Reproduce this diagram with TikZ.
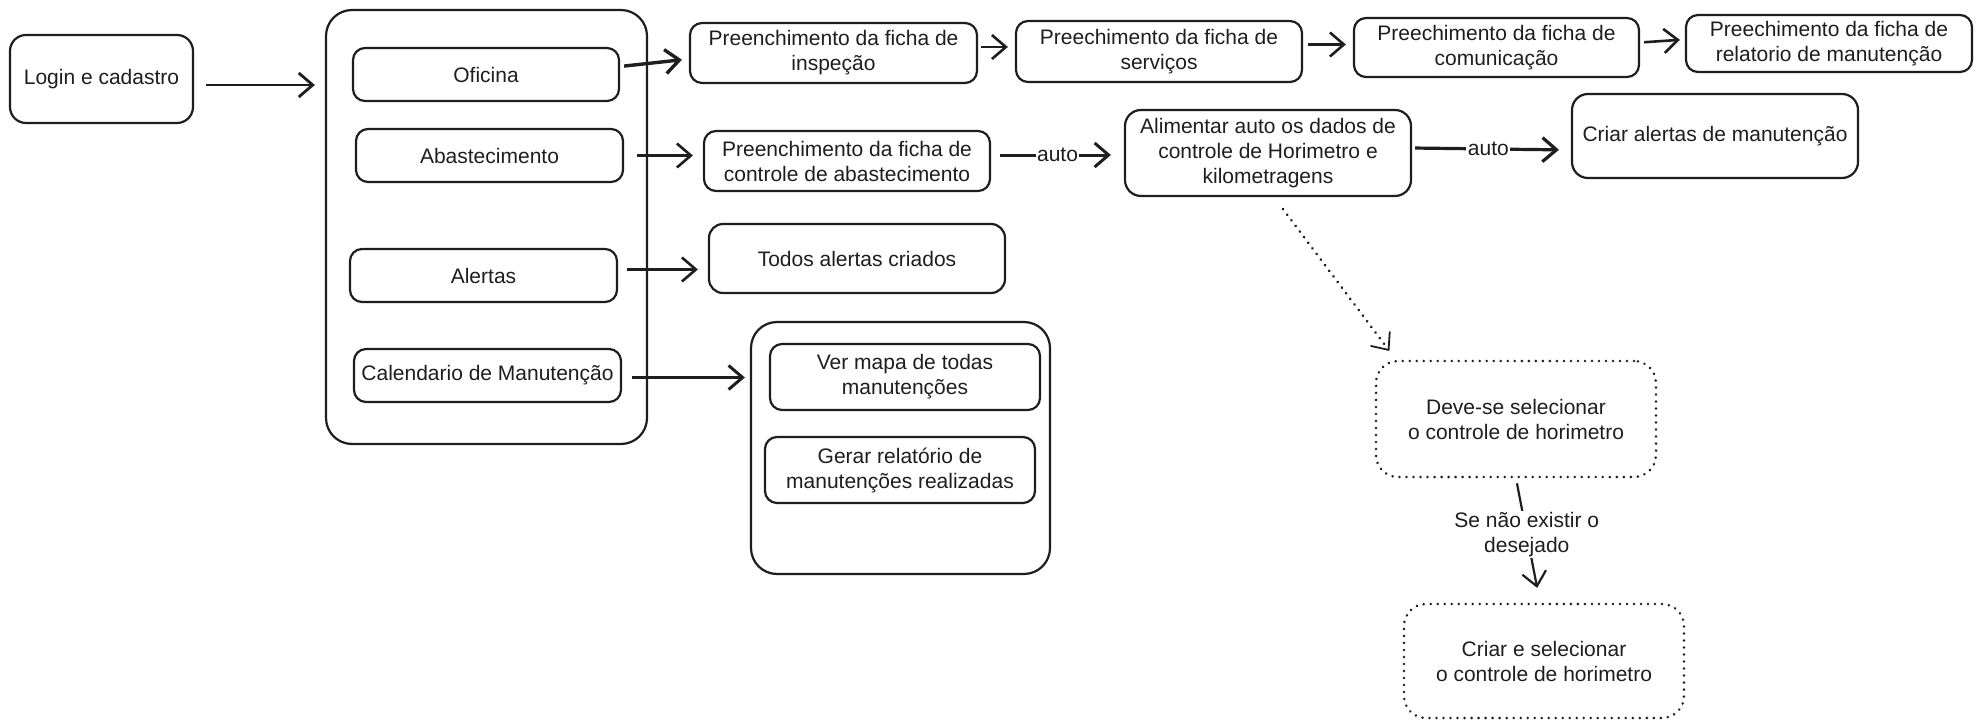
\documentclass[tikz,border=0pt]{standalone}
\usepackage{fontspec}
\setmainfont{Liberation Sans}
\usetikzlibrary{arrows.meta,calc}
\definecolor{inkc}{HTML}{1E1E1E}
\begin{document}
\begin{tikzpicture}[x=1pt,y=-1pt,
  ink/.style={draw=inkc, line width=2.2pt},
  txt/.style={font=\fontsize{21}{25}\selectfont, text=inkc, align=center},
  box/.style={ink, txt, rounded corners=12pt, inner sep=0pt},
  bigbox/.style={ink, rounded corners=26pt, inner sep=0pt},
  dotbox/.style={txt, draw=inkc, line width=2.8pt, line cap=round, dash pattern=on 0.01pt off 7pt, rounded corners=22pt, inner sep=0pt},
  arr/.style={draw=inkc, line width=2.6pt, -{Straight Barb[length=14pt,width=24pt]}},
  dotarr/.style={draw=inkc, line width=3pt, line cap=round, dash pattern=on 0.01pt off 7pt, -{Straight Barb[length=14pt,width=24pt,line width=1.8pt]}},
  lbl/.style={txt, fill=white, inner sep=1.5pt}
]
\useasboundingbox (0,0) rectangle (1982,728);
\fill[white] (0,0) rectangle (1982,728);

% left
\node[box, rounded corners=16pt, minimum width=183pt, minimum height=88pt] (login) at (101.5,79) {Login e cadastro};
\node[bigbox, minimum width=321pt, minimum height=434pt] (cont) at (486.5,227) {};
\node[box, minimum width=266pt, minimum height=53pt] (oficina) at (486,74.5) {Oficina};
\node[box, minimum width=267pt, minimum height=53pt] (abast) at (489.5,155.5) {Abastecimento};
\node[box, minimum width=267pt, minimum height=53pt] (alertas) at (483.5,275.5) {Alertas};
\node[box, minimum width=267pt, minimum height=53pt] (calend) at (487.5,375.5) {Calendario de Manutenção};

% top row
\node[box, minimum width=287pt, minimum height=60pt] (insp) at (833.5,53) {Preenchimento da ficha de\\inspeção};
\node[box, minimum width=286pt, minimum height=61pt] (serv) at (1159,51.5) {Preechimento da ficha de\\serviços};
\node[box, minimum width=285pt, minimum height=59pt] (comun) at (1496.5,47.5) {Preechimento da ficha de\\comunicação};
\node[box, minimum width=286pt, minimum height=57pt] (relat) at (1829,43.5) {Preechimento da ficha de\\relatorio de manutenção};

% second row
\node[box, minimum width=286pt, minimum height=60pt] (ctrlab) at (847,161) {Preenchimento da ficha de\\controle de abastecimento};
\node[box, rounded corners=16pt, minimum width=286pt, minimum height=86pt] (aliment) at (1268,153) {Alimentar auto os dados de\\controle de Horimetro e\\kilometragens};
\node[box, rounded corners=16pt, minimum width=286pt, minimum height=84pt] (criaral) at (1715,136) {Criar alertas de manutenção};

% alerts
\node[box, rounded corners=14pt, minimum width=296pt, minimum height=69pt] (todos) at (857,258.5) {Todos alertas criados};

% calendar container
\node[bigbox, minimum width=299pt, minimum height=252pt] (calcont) at (900.5,448) {};
\node[box, minimum width=270pt, minimum height=66pt] (vermapa) at (905,377) {Ver mapa de todas\\manutenções};
\node[box, minimum width=270pt, minimum height=66pt] (gerar) at (900,470) {Gerar relatório de\\manutenções realizadas};

% dotted boxes
\node[dotbox, minimum width=280pt, minimum height=116pt] (deve) at (1516,419) {Deve-se selecionar\\o controle de horimetro};
\node[dotbox, minimum width=280pt, minimum height=114pt] (criarsel) at (1544,661) {Criar e selecionar\\o controle de horimetro};

% connectors
\draw[arr, line width=2.8pt, shorten <=12pt, shorten >=10pt] ([yshift=-6pt]login.east) -- ([yshift=-6pt]login.east -| cont.west);
\draw[arr, line width=3.4pt, shorten <=4pt, shorten >=7pt] ([yshift=8pt]oficina.east) -- ([yshift=-6pt]insp.west);
\draw[arr, shorten <=13pt, shorten >=10pt] (abast.east) -- (abast.east -| ctrlab.west);
\draw[arr, shorten <=9pt, shorten >=10pt] ([yshift=6pt]alertas.east) -- ([yshift=6pt]alertas.east -| todos.west);
\draw[arr, line width=3pt, shorten <=10pt, shorten >=5pt] ([yshift=-2pt]calend.east) -- ([yshift=-2pt]calend.east -| calcont.west);
\draw[arr, shorten <=3pt, shorten >=7pt] ([yshift=6pt]insp.east) -- ([yshift=6pt]insp.east -| serv.west);
\draw[arr, shorten <=5pt, shorten >=7pt] ([yshift=7pt]serv.east) -- ([yshift=3pt]comun.west);
\draw[arr, shorten <=4pt, shorten >=5pt] ([yshift=5pt]comun.east) -- ([yshift=4pt]relat.west);
\draw[arr, line width=3pt, shorten <=9pt, shorten >=13pt] ([yshift=6pt]ctrlab.east) -- ([yshift=6pt]ctrlab.east -| aliment.west)
  node[lbl, pos=0.5] {auto};
\draw[arr, line width=3.2pt, shorten <=3pt, shorten >=12pt] ([yshift=5pt]aliment.east) -- ([yshift=-14pt]criaral.west)
  node[lbl, pos=0.48] {auto};
\draw[dotarr, shorten <=15pt, shorten >=2pt] ([xshift=6pt]aliment.south) -- ([xshift=16pt,yshift=7pt]deve.north west);
\draw[arr, line width=2.2pt, shorten <=5pt, shorten >=15pt] (deve.south) -- ([xshift=-4pt]criarsel.north)
  node[lbl, pos=0.45] {Se não existir o\\desejado};
\end{tikzpicture}
\end{document}
